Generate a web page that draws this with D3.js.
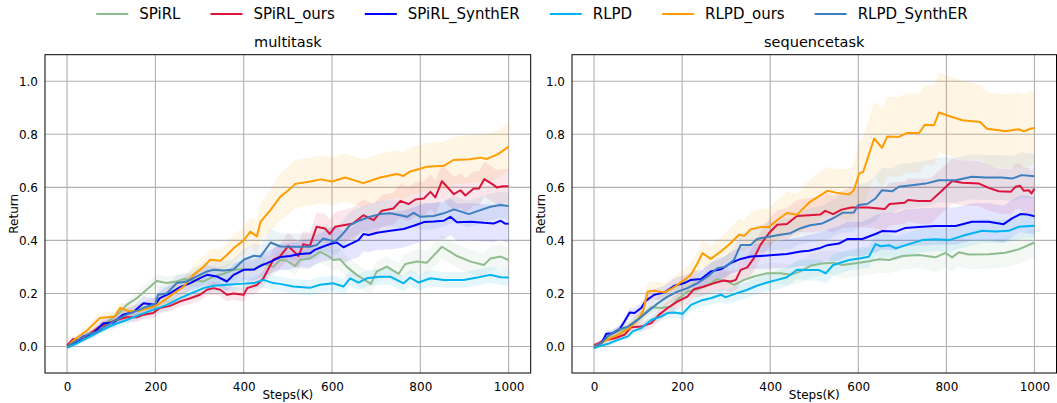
<!DOCTYPE html>
<html><head><meta charset="utf-8">
<script src="https://cdn.jsdelivr.net/npm/d3@7"></script>
<style>body{margin:0;background:#fff} text{font-family:"DejaVu Sans",sans-serif;fill:#000}</style>
</head><body>
<svg id="c" width="1057" height="403"></svg>
<script>
// ---- data: [step (K), mean return, std] ----
const seriesNames = ["SPiRL","SPiRL_ours","SPiRL_SynthER","RLPD","RLPD_ours","RLPD_SynthER"];
const seriesColors = ["#8fbc8f","#dc143c","#0000ff","#00b4f0","#ff9c00","#3d7fbf"];
const panelTitles = ["multitask","sequencetask"];
const xTicks = [0,200,400,600,800,1000];
const yTicks = [0.0,0.2,0.4,0.6,0.8,1.0];

const multitask_SPiRL = [[0,-0.003,0.005],[20,0.015,0.01],[44,0.038,0.012],[74,0.07,0.015],[97,0.10,0.018],[120,0.13,0.02],[135,0.157,0.02],[158,0.182,0.022],[180,0.214,0.025],[203,0.247,0.025],[226,0.239,0.025],[248,0.245,0.025],[264,0.254,0.025],[286,0.251,0.025],[309,0.245,0.03],[332,0.264,0.03],[355,0.274,0.03],[377,0.289,0.03],[400,0.291,0.03],[423,0.291,0.03],[445,0.312,0.035],[467,0.30,0.035],[482,0.326,0.035],[497,0.324,0.035],[516,0.303,0.035],[527,0.326,0.035],[550,0.332,0.04],[573,0.357,0.04],[592,0.341,0.04],[603,0.326,0.04],[618,0.329,0.04],[633,0.301,0.04],[656,0.27,0.04],[688,0.236,0.04],[701,0.282,0.04],[724,0.301,0.04],[751,0.274,0.04],[766,0.311,0.04],[792,0.32,0.045],[815,0.316,0.045],[849,0.376,0.045],[883,0.341,0.045],[914,0.32,0.045],[944,0.307,0.045],[959,0.332,0.045],[982,0.339,0.045],[1000,0.326,0.045]];
const multitask_SPiRL_ours = [[0,0.005,0.005],[14,0.028,0.01],[29,0.023,0.01],[44,0.038,0.012],[59,0.057,0.012],[74,0.075,0.015],[89,0.085,0.015],[112,0.10,0.015],[135,0.11,0.018],[158,0.11,0.018],[173,0.12,0.018],[195,0.126,0.02],[210,0.145,0.02],[233,0.153,0.02],[256,0.17,0.02],[279,0.182,0.022],[301,0.195,0.022],[317,0.214,0.022],[332,0.22,0.025],[347,0.214,0.025],[362,0.195,0.025],[377,0.20,0.025],[400,0.195,0.025],[408,0.22,0.03],[430,0.232,0.03],[445,0.258,0.03],[467,0.327,0.04],[482,0.339,0.045],[501,0.379,0.05],[524,0.341,0.05],[535,0.386,0.05],[550,0.379,0.05],[565,0.451,0.055],[584,0.445,0.055],[595,0.424,0.055],[607,0.451,0.055],[648,0.464,0.06],[671,0.495,0.06],[694,0.476,0.06],[713,0.512,0.06],[739,0.52,0.06],[755,0.549,0.065],[773,0.537,0.065],[789,0.554,0.065],[808,0.558,0.065],[823,0.583,0.065],[834,0.562,0.065],[849,0.623,0.065],[876,0.574,0.065],[891,0.589,0.065],[902,0.569,0.065],[921,0.596,0.065],[933,0.596,0.065],[945,0.631,0.065],[963,0.612,0.065],[974,0.599,0.065],[986,0.604,0.065],[1000,0.604,0.065]];
const multitask_SPiRL_SynthER = [[0,0.005,0.005],[21,0.015,0.01],[36,0.038,0.012],[59,0.048,0.015],[82,0.088,0.018],[105,0.09,0.018],[127,0.12,0.02],[150,0.13,0.022],[173,0.163,0.025],[199,0.157,0.025],[210,0.182,0.028],[233,0.20,0.03],[256,0.224,0.03],[279,0.239,0.03],[301,0.258,0.035],[317,0.27,0.035],[339,0.264,0.035],[362,0.245,0.035],[377,0.27,0.04],[400,0.289,0.04],[423,0.29,0.04],[438,0.304,0.045],[461,0.32,0.045],[483,0.337,0.05],[505,0.341,0.05],[527,0.349,0.05],[550,0.351,0.055],[561,0.364,0.055],[576,0.374,0.055],[595,0.386,0.06],[611,0.392,0.06],[626,0.374,0.06],[641,0.386,0.06],[660,0.401,0.065],[671,0.424,0.065],[683,0.42,0.065],[702,0.429,0.065],[732,0.436,0.07],[762,0.443,0.07],[785,0.455,0.07],[808,0.469,0.07],[830,0.471,0.07],[853,0.474,0.07],[868,0.489,0.07],[883,0.468,0.07],[914,0.47,0.07],[944,0.466,0.07],[967,0.464,0.07],[982,0.474,0.07],[991,0.464,0.07],[1000,0.463,0.07]];
const multitask_RLPD = [[0,-0.005,0.005],[22,0.012,0.008],[44,0.031,0.01],[74,0.057,0.012],[105,0.082,0.015],[135,0.10,0.015],[165,0.12,0.018],[195,0.138,0.018],[226,0.157,0.02],[256,0.182,0.02],[286,0.204,0.022],[309,0.22,0.022],[332,0.229,0.025],[362,0.233,0.025],[392,0.236,0.025],[423,0.239,0.025],[445,0.251,0.028],[467,0.239,0.028],[482,0.236,0.028],[512,0.226,0.028],[550,0.221,0.03],[573,0.233,0.03],[603,0.238,0.03],[626,0.226,0.03],[641,0.257,0.03],[660,0.241,0.03],[679,0.257,0.03],[709,0.263,0.03],[732,0.263,0.03],[762,0.238,0.03],[777,0.26,0.03],[796,0.241,0.03],[823,0.257,0.03],[853,0.251,0.03],[898,0.251,0.03],[929,0.26,0.03],[959,0.27,0.03],[982,0.261,0.03],[1000,0.26,0.03]];
const multitask_RLPD_ours = [[0,0.0,0.005],[20,0.03,0.01],[45,0.06,0.015],[74,0.107,0.02],[108,0.113,0.02],[120,0.145,0.022],[140,0.133,0.022],[165,0.135,0.025],[195,0.15,0.025],[210,0.163,0.028],[233,0.19,0.03],[264,0.226,0.035],[286,0.27,0.035],[309,0.30,0.04],[324,0.327,0.04],[347,0.323,0.045],[362,0.345,0.045],[377,0.37,0.05],[400,0.40,0.05],[415,0.433,0.055],[430,0.415,0.06],[438,0.47,0.07],[461,0.515,0.08],[483,0.565,0.09],[498,0.584,0.09],[517,0.613,0.09],[551,0.622,0.09],[574,0.63,0.09],[600,0.622,0.09],[630,0.637,0.09],[671,0.616,0.09],[709,0.637,0.09],[747,0.65,0.09],[762,0.643,0.09],[777,0.66,0.09],[800,0.67,0.09],[815,0.678,0.09],[853,0.681,0.09],[875,0.703,0.09],[913,0.706,0.09],[936,0.712,0.09],[951,0.707,0.09],[977,0.726,0.09],[1000,0.754,0.09]];
const multitask_RLPD_SynthER = [[0,0.0,0.005],[20,0.02,0.01],[45,0.044,0.012],[67,0.055,0.015],[90,0.08,0.018],[112,0.1,0.02],[135,0.12,0.02],[158,0.135,0.022],[180,0.15,0.025],[200,0.16,0.025],[206,0.195,0.028],[226,0.2,0.03],[248,0.239,0.03],[271,0.245,0.03],[294,0.264,0.035],[317,0.283,0.035],[332,0.289,0.035],[355,0.286,0.035],[377,0.29,0.04],[400,0.327,0.04],[423,0.342,0.045],[438,0.339,0.045],[461,0.392,0.05],[483,0.377,0.05],[512,0.376,0.05],[550,0.376,0.05],[565,0.382,0.05],[580,0.407,0.05],[607,0.395,0.05],[622,0.42,0.05],[641,0.458,0.05],[664,0.476,0.05],[686,0.489,0.05],[709,0.499,0.05],[732,0.502,0.05],[755,0.495,0.05],[770,0.489,0.05],[785,0.504,0.05],[800,0.489,0.05],[830,0.492,0.05],[853,0.502,0.05],[876,0.517,0.05],[910,0.499,0.05],[936,0.514,0.05],[959,0.527,0.05],[982,0.533,0.05],[1000,0.53,0.05]];

const sequencetask_SPiRL = [[0,-0.005,0.005],[24,0.028,0.01],[47,0.053,0.012],[69,0.063,0.015],[92,0.094,0.018],[115,0.126,0.02],[130,0.148,0.02],[152,0.145,0.022],[175,0.151,0.025],[190,0.178,0.025],[212,0.207,0.028],[235,0.216,0.03],[258,0.232,0.03],[280,0.254,0.03],[303,0.245,0.035],[318,0.232,0.035],[341,0.251,0.035],[363,0.264,0.04],[393,0.276,0.04],[423,0.276,0.04],[446,0.27,0.04],[469,0.283,0.045],[491,0.304,0.045],[518,0.313,0.045],[543,0.316,0.045],[564,0.307,0.05],[602,0.316,0.05],[624,0.321,0.05],[647,0.329,0.05],[670,0.326,0.05],[700,0.341,0.05],[738,0.345,0.05],[775,0.336,0.055],[798,0.353,0.055],[813,0.336,0.055],[828,0.355,0.055],[851,0.347,0.055],[896,0.348,0.055],[934,0.353,0.055],[964,0.366,0.055],[1000,0.392,0.055]];
const sequencetask_SPiRL_ours = [[0,0.005,0.005],[24,0.023,0.01],[47,0.031,0.012],[69,0.044,0.015],[84,0.072,0.015],[107,0.075,0.018],[130,0.088,0.02],[148,0.12,0.022],[167,0.145,0.025],[190,0.17,0.028],[212,0.188,0.03],[227,0.216,0.03],[250,0.226,0.035],[273,0.239,0.035],[295,0.249,0.04],[310,0.245,0.04],[322,0.251,0.04],[333,0.289,0.045],[348,0.298,0.045],[363,0.333,0.05],[378,0.383,0.05],[397,0.427,0.055],[416,0.459,0.055],[438,0.462,0.06],[461,0.492,0.06],[488,0.495,0.065],[514,0.498,0.065],[525,0.511,0.07],[543,0.499,0.07],[562,0.516,0.07],[584,0.524,0.075],[622,0.524,0.075],[660,0.518,0.08],[671,0.537,0.08],[705,0.542,0.08],[713,0.552,0.08],[736,0.548,0.085],[764,0.548,0.085],[783,0.577,0.085],[813,0.624,0.085],[836,0.617,0.085],[874,0.614,0.085],[896,0.598,0.085],[919,0.585,0.085],[946,0.583,0.085],[957,0.602,0.085],[967,0.606,0.085],[976,0.587,0.085],[987,0.589,0.085],[993,0.577,0.085],[1000,0.595,0.085]];
const sequencetask_SPiRL_SynthER = [[0,-0.005,0.005],[17,0.013,0.01],[28,0.048,0.012],[43,0.05,0.012],[58,0.065,0.015],[69,0.094,0.015],[81,0.128,0.018],[92,0.126,0.018],[107,0.145,0.02],[118,0.173,0.02],[137,0.195,0.022],[160,0.204,0.025],[182,0.229,0.028],[205,0.239,0.03],[220,0.251,0.03],[243,0.254,0.035],[265,0.283,0.035],[288,0.291,0.04],[310,0.314,0.04],[333,0.33,0.045],[356,0.339,0.045],[386,0.342,0.05],[408,0.345,0.05],[438,0.349,0.055],[469,0.358,0.055],[488,0.361,0.06],[511,0.37,0.06],[530,0.382,0.06],[556,0.388,0.065],[575,0.405,0.065],[609,0.405,0.065],[639,0.424,0.07],[654,0.435,0.07],[685,0.433,0.07],[707,0.447,0.07],[745,0.451,0.07],[775,0.454,0.07],[821,0.454,0.07],[858,0.47,0.07],[896,0.47,0.07],[930,0.461,0.07],[949,0.483,0.07],[968,0.499,0.07],[983,0.498,0.07],[1000,0.491,0.07]];
const sequencetask_RLPD = [[0,-0.005,0.005],[32,0.01,0.008],[54,0.025,0.01],[77,0.038,0.012],[88,0.057,0.012],[107,0.069,0.015],[130,0.10,0.018],[152,0.113,0.018],[167,0.126,0.02],[182,0.128,0.02],[201,0.123,0.022],[220,0.157,0.022],[243,0.173,0.025],[265,0.182,0.025],[288,0.195,0.028],[299,0.186,0.028],[325,0.201,0.03],[348,0.214,0.03],[370,0.229,0.03],[393,0.241,0.035],[416,0.251,0.035],[438,0.261,0.035],[461,0.289,0.035],[488,0.288,0.04],[511,0.288,0.04],[526,0.276,0.04],[543,0.307,0.04],[579,0.326,0.04],[602,0.332,0.04],[624,0.338,0.04],[639,0.386,0.045],[651,0.378,0.045],[670,0.382,0.045],[685,0.37,0.045],[715,0.386,0.045],[745,0.401,0.045],[775,0.404,0.045],[806,0.401,0.045],[843,0.42,0.045],[881,0.436,0.045],[911,0.433,0.045],[941,0.436,0.045],[964,0.451,0.045],[1000,0.455,0.045]];
const sequencetask_RLPD_ours = [[0,0.0,0.005],[17,0.013,0.01],[32,0.028,0.012],[54,0.044,0.015],[77,0.065,0.02],[99,0.10,0.025],[111,0.132,0.03],[122,0.207,0.035],[137,0.21,0.035],[160,0.204,0.035],[182,0.224,0.04],[205,0.251,0.04],[220,0.27,0.045],[235,0.314,0.045],[246,0.352,0.05],[265,0.33,0.05],[288,0.358,0.055],[310,0.389,0.06],[329,0.421,0.06],[341,0.417,0.06],[356,0.442,0.065],[378,0.45,0.07],[397,0.45,0.07],[416,0.477,0.075],[438,0.503,0.08],[461,0.497,0.08],[488,0.542,0.085],[511,0.567,0.09],[530,0.587,0.09],[549,0.58,0.09],[579,0.573,0.095],[590,0.589,0.1],[602,0.652,0.12],[611,0.658,0.13],[636,0.784,0.14],[654,0.749,0.15],[666,0.792,0.15],[692,0.79,0.15],[711,0.805,0.15],[738,0.805,0.15],[751,0.836,0.15],[772,0.834,0.15],[783,0.882,0.15],[806,0.869,0.15],[836,0.853,0.15],[877,0.846,0.14],[892,0.821,0.14],[919,0.815,0.14],[934,0.811,0.14],[964,0.819,0.14],[976,0.811,0.14],[991,0.821,0.14],[1000,0.824,0.14]];
const sequencetask_RLPD_SynthER = [[0,0.0,0.005],[17,0.013,0.01],[32,0.04,0.012],[54,0.063,0.015],[77,0.075,0.018],[99,0.10,0.02],[122,0.132,0.022],[145,0.163,0.025],[167,0.188,0.028],[190,0.207,0.03],[212,0.22,0.032],[235,0.239,0.035],[258,0.264,0.038],[280,0.295,0.04],[299,0.301,0.04],[318,0.327,0.045],[333,0.383,0.045],[356,0.383,0.05],[370,0.405,0.05],[397,0.414,0.055],[423,0.421,0.055],[446,0.427,0.06],[469,0.446,0.06],[491,0.457,0.065],[518,0.464,0.065],[530,0.473,0.07],[549,0.489,0.07],[564,0.504,0.075],[590,0.505,0.075],[600,0.533,0.08],[620,0.537,0.08],[639,0.558,0.085],[654,0.589,0.085],[677,0.585,0.085],[692,0.602,0.085],[722,0.608,0.085],[753,0.614,0.085],[783,0.627,0.085],[821,0.627,0.085],[858,0.64,0.085],[889,0.637,0.085],[926,0.637,0.085],[949,0.633,0.085],[971,0.646,0.085],[1000,0.642,0.085]];

const panelData = [
  [multitask_SPiRL, multitask_SPiRL_ours, multitask_SPiRL_SynthER, multitask_RLPD, multitask_RLPD_ours, multitask_RLPD_SynthER],
  [sequencetask_SPiRL, sequencetask_SPiRL_ours, sequencetask_SPiRL_SynthER, sequencetask_RLPD, sequencetask_RLPD_ours, sequencetask_RLPD_SynthER]
];

// ---- layout ----
const svg = d3.select("#c");
const plotTop = 54.7, plotBottom = 373;
const panelX = [[45, 530.7], [572, 1056.5]];

panelData.forEach((series, pi) => {
  const [x0, x1] = panelX[pi];
  const x = d3.scaleLinear().domain([-50, 1050]).range([x0, x1]);
  const y = d3.scaleLinear().domain([-0.1, 1.1]).range([plotBottom, plotTop]);
  const g = svg.append("g");
  const clipId = "clip" + pi;
  g.append("clipPath").attr("id", clipId).append("rect")
    .attr("x", x0).attr("y", plotTop).attr("width", x1 - x0).attr("height", plotBottom - plotTop);

  // grid
  g.append("g").selectAll("line").data(xTicks).join("line")
    .attr("x1", d => x(d)).attr("x2", d => x(d)).attr("y1", plotTop).attr("y2", plotBottom)
    .attr("stroke", "#b0b0b0").attr("stroke-width", 1.1);
  g.append("g").selectAll("line").data(yTicks).join("line")
    .attr("y1", d => y(d)).attr("y2", d => y(d)).attr("x1", x0).attr("x2", x1)
    .attr("stroke", "#b0b0b0").attr("stroke-width", 1.1);

  const plot = g.append("g").attr("clip-path", `url(#${clipId})`);
  const area = d3.area().x(d => x(d[0])).y0(d => y(d[1] - d[2])).y1(d => y(d[1] + d[2]));
  const line = d3.line().x(d => x(d[0])).y(d => y(d[1]));
  series.forEach((s, si) => {
    plot.append("path").attr("d", area(s)).attr("fill", seriesColors[si]).attr("fill-opacity", 0.1).attr("stroke", "none");
  });
  series.forEach((s, si) => {
    plot.append("path").attr("d", line(s)).attr("fill", "none")
      .attr("stroke", seriesColors[si]).attr("stroke-width", 2).attr("stroke-linejoin", "round");
  });

  // axes (no tick marks)
  const xa = g.append("g").attr("transform", `translate(0,${plotBottom})`)
    .call(d3.axisBottom(x).tickValues(xTicks).tickSize(0).tickPadding(9).tickFormat(d3.format("d")));
  const ya = g.append("g").attr("transform", `translate(${x0},0)`)
    .call(d3.axisLeft(y).tickValues(yTicks).tickSize(0).tickPadding(7).tickFormat(d3.format(".1f")));
  [xa, ya].forEach(a => {
    a.select(".domain").remove();
    a.selectAll("text").attr("font-size", 12).attr("font-family", "DejaVu Sans").attr("fill", "#000");
  });

  // frame
  g.append("rect").attr("x", x0).attr("y", plotTop).attr("width", x1 - x0).attr("height", plotBottom - plotTop)
    .attr("fill", "none").attr("stroke", "#000").attr("stroke-width", 1);

  // labels
  g.append("text").attr("x", (x0 + x1) / 2).attr("y", 47).attr("text-anchor", "middle")
    .attr("font-size", 14.5).text(panelTitles[pi]);
  g.append("text").attr("x", (x0 + x1) / 2).attr("y", 399).attr("text-anchor", "middle")
    .attr("font-size", 12).text("Steps(K)");
  g.append("text").attr("transform", `translate(${x0 - 27},${(plotTop + plotBottom) / 2}) rotate(-90)`)
    .attr("text-anchor", "middle").attr("font-size", 12).text("Return");
});

// ---- legend ----
const leg = svg.append("g");
let cx = 0;
seriesNames.forEach((n, i) => {
  const it = leg.append("g").attr("transform", `translate(${cx},0)`);
  it.append("line").attr("x1", 0).attr("x2", 32).attr("y1", 14).attr("y2", 14)
    .attr("stroke", seriesColors[i]).attr("stroke-width", 2);
  const t = it.append("text").attr("x", 43).attr("y", 19).attr("font-size", 15).text(n);
  const w = t.node().getComputedTextLength();
  cx += 43 + w + 30;
});
const totalW = cx - 30;
leg.attr("transform", `translate(${532 - totalW / 2},0)`);
</script>
</body></html>
